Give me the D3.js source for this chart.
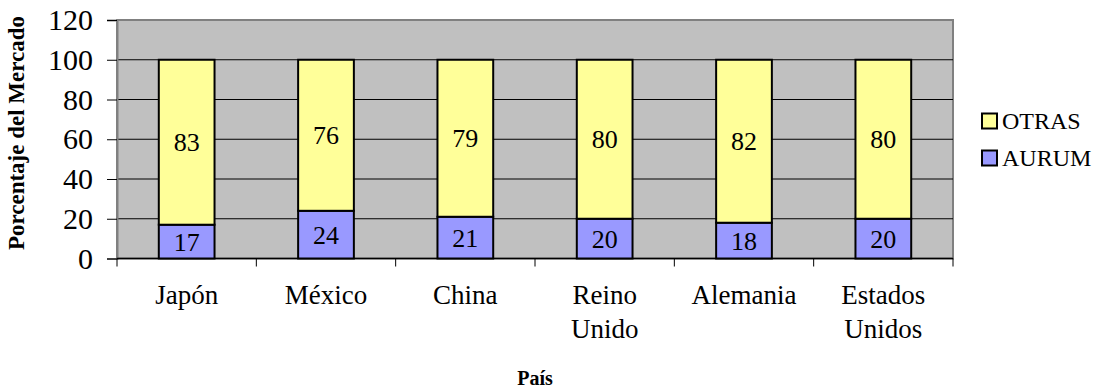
<!DOCTYPE html>
<html>
<head>
<meta charset="utf-8">
<script src="https://cdn.jsdelivr.net/npm/d3@7"></script>
<style>
  body { margin: 0; background: #fff; }
  svg text { font-family: 'Liberation Serif', 'Times New Roman', Times, serif; }
</style>
</head>
<body>
<div id="chart"></div>
<script>
// data
var paises = ['Japón', 'México', 'China', 'Reino Unido', 'Alemania', 'Estados Unidos'];
var aurum = [17, 24, 21, 20, 18, 20];
var otras = [83, 76, 79, 80, 82, 80];
var yTicks = [0, 20, 40, 60, 80, 100, 120];
var series = ['AURUM', 'OTRAS'];
var colores = { AURUM: '#9999FF', OTRAS: '#FFFF99' };

var FONT = "'Liberation Serif', 'Times New Roman', serif";
var W = 1095, H = 390;
var plot = { left: 117, right: 953, top: 20, bottom: 258.5 };

var svg = d3.select('#chart').append('svg')
    .attr('width', W)
    .attr('height', H)
    .attr('font-family', FONT);

var rows = paises.map((p, i) => ({ pais: p, AURUM: aurum[i], OTRAS: otras[i] }));
var stacked = d3.stack().keys(series)(rows);

var x = d3.scaleBand()
    .domain(paises)
    .range([plot.left, plot.right])
    .paddingInner(0.6)
    .paddingOuter(0.3);

var y = d3.scaleLinear()
    .domain([0, 120])
    .range([plot.bottom, plot.top]);

// plot area
svg.append('rect')
    .attr('x', plot.left)
    .attr('y', plot.top)
    .attr('width', plot.right - plot.left)
    .attr('height', plot.bottom - plot.top)
    .attr('fill', '#C0C0C0')
    .attr('stroke', '#808080')
    .attr('stroke-width', 2);

// gridlines
svg.append('g')
    .selectAll('line')
    .data(yTicks.filter(d => d > 0 && d < 120))
    .enter()
    .append('line')
    .attr('x1', plot.left)
    .attr('x2', plot.right)
    .attr('y1', d => y(d))
    .attr('y2', d => y(d))
    .attr('stroke', '#000')
    .attr('stroke-width', 1);

// y axis
var yAxis = d3.axisLeft(y)
    .tickValues(yTicks)
    .tickSize(10)
    .tickPadding(14);

var gy = svg.append('g')
    .attr('transform', 'translate(' + plot.left + ',0)')
    .call(yAxis)
    .attr('font-family', FONT);
gy.select('.domain').attr('stroke', '#808080').attr('stroke-width', 2);
gy.selectAll('.tick line').attr('stroke', '#000');
gy.selectAll('.tick text')
    .attr('font-family', FONT)
    .attr('font-size', 30)
    .attr('fill', '#000');

// x axis: line and ticks between categories
var step = x.step();
var bounds = paises.map(p => x(p) - x.paddingOuter() * step);
bounds.push(plot.right);

svg.append('line')
    .attr('x1', plot.left)
    .attr('x2', plot.right)
    .attr('y1', plot.bottom)
    .attr('y2', plot.bottom)
    .attr('stroke', '#000')
    .attr('stroke-width', 1.5);

svg.append('g')
    .selectAll('line')
    .data(bounds)
    .enter()
    .append('line')
    .attr('x1', d => d)
    .attr('x2', d => d)
    .attr('y1', plot.bottom)
    .attr('y2', plot.bottom + 8)
    .attr('stroke', '#000');

// bars
var layers = svg.selectAll('.layer')
    .data(stacked)
    .enter()
    .append('g')
    .attr('class', 'layer')
    .attr('fill', d => colores[d.key]);

layers.selectAll('rect')
    .data(d => d)
    .enter()
    .append('rect')
    .attr('x', d => x(d.data.pais))
    .attr('y', d => y(d[1]))
    .attr('width', x.bandwidth())
    .attr('height', d => y(d[0]) - y(d[1]))
    .attr('stroke', '#000')
    .attr('stroke-width', 2);

layers.selectAll('text')
    .data(d => d)
    .enter()
    .append('text')
    .attr('x', d => x(d.data.pais) + x.bandwidth() / 2)
    .attr('y', d => (y(d[0]) + y(d[1])) / 2)
    .attr('dy', '0.35em')
    .attr('text-anchor', 'middle')
    .attr('font-size', 26)
    .attr('fill', '#000')
    .text(d => d[1] - d[0]);

// category labels
var cat = svg.append('g')
    .selectAll('text')
    .data(paises)
    .enter()
    .append('text')
    .attr('x', d => x(d) + x.bandwidth() / 2)
    .attr('y', 304)
    .attr('text-anchor', 'middle')
    .attr('font-size', 27)
    .attr('fill', '#000');

cat.selectAll('tspan')
    .data(d => d.split(' '))
    .enter()
    .append('tspan')
    .attr('x', function () { return d3.select(this.parentNode).attr('x'); })
    .attr('dy', (d, i) => i === 0 ? 0 : 34)
    .text(d => d);

// axis titles
svg.append('text')
    .attr('x', (plot.left + plot.right) / 2)
    .attr('y', 385)
    .attr('text-anchor', 'middle')
    .attr('font-size', 20)
    .attr('font-weight', 'bold')
    .text('País');

svg.append('text')
    .attr('transform', 'translate(24,' + 133 + ') rotate(-90)')
    .attr('text-anchor', 'middle')
    .attr('font-size', 23)
    .attr('font-weight', 'bold')
    .text('Porcentaje del Mercado');

// legend
var legend = svg.append('g')
    .selectAll('g')
    .data(['OTRAS', 'AURUM'])
    .enter()
    .append('g')
    .attr('transform', (d, i) => 'translate(982,' + (121 + i * 37) + ')');

legend.append('rect')
    .attr('x', 0)
    .attr('y', -7.5)
    .attr('width', 15)
    .attr('height', 15)
    .attr('fill', d => colores[d])
    .attr('stroke', '#000')
    .attr('stroke-width', 2);

legend.append('text')
    .attr('x', 20)
    .attr('y', 0)
    .attr('dy', '0.35em')
    .attr('font-size', 24)
    .attr('fill', '#000')
    .text(d => d);
</script>
</body>
</html>
